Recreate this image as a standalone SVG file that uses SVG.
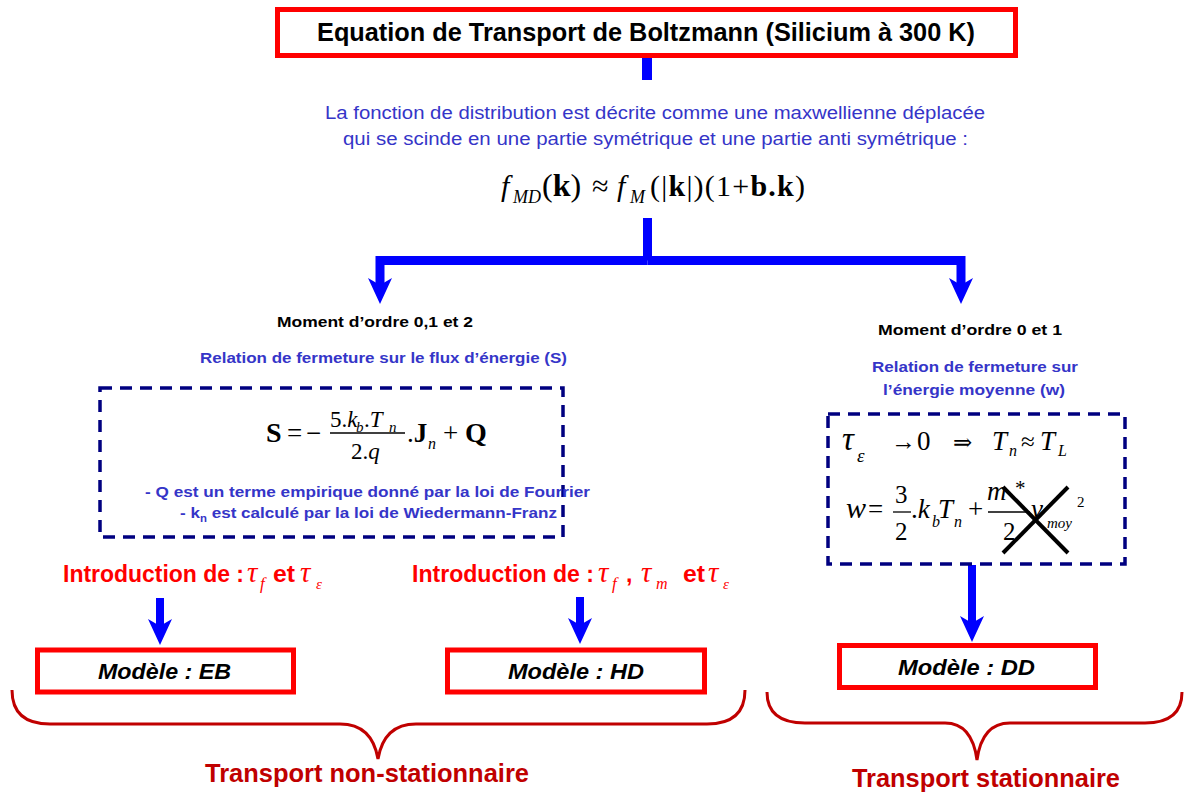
<svg xmlns="http://www.w3.org/2000/svg" width="1185" height="794" viewBox="0 0 1185 794">
<style>
.sans{font-family:"Liberation Sans",Arial,sans-serif;font-weight:bold}
.blue{fill:#3535C8}
.red{fill:#FF0000}
.dred{fill:#C00000}
.math{font-family:"Liberation Serif","DejaVu Serif",serif;fill:#000}
.it{font-style:italic}
.bd{font-weight:bold}
.rm{fill:#FF0000}
.rbox{fill:#fff;stroke:#FF0000;stroke-width:5}
.dbox{fill:none;stroke:#000080;stroke-width:3.5;stroke-dasharray:12 8}
.conn{fill:none;stroke:#0000FF;stroke-width:9;stroke-linejoin:miter}
.brace{fill:none;stroke:#C00000;stroke-width:3}
.frac{stroke:#000;stroke-width:1.3}
</style>
<defs>
<marker id="ah" markerUnits="userSpaceOnUse" markerWidth="26" markerHeight="24" refX="7" refY="12" orient="auto" overflow="visible">
<path d="M0,0 L26,12 L0,24 L7,12 Z" fill="#0000FF"/>
</marker>
</defs>

<g id="connectors">
<rect x="642" y="56" width="10" height="24" fill="#0000FF"/>
<path class="conn" d="M647.5,218 V260.5"/>
<path class="conn" d="M647.5,260.5 H380 V285" marker-end="url(#ah)"/>
<path class="conn" d="M647.5,260.5 H961 V285" marker-end="url(#ah)"/>
<path class="conn" style="stroke-width:8" d="M160,598 V626" marker-end="url(#ah)"/>
<path class="conn" style="stroke-width:8" d="M580,597 V625" marker-end="url(#ah)"/>
<path class="conn" style="stroke-width:8" d="M972,565 V623" marker-end="url(#ah)"/>
</g>

<g id="title">
<rect class="rbox" x="277.5" y="9.5" width="738" height="46"/>
<text class="sans" x="317" y="41" font-size="25" textLength="658" lengthAdjust="spacingAndGlyphs">Equation de Transport de Boltzmann (Silicium à 300 K)</text>
</g>

<g id="distribution">
<text class="sans blue" style="font-weight:normal" x="325" y="119" font-size="17.5" textLength="660" lengthAdjust="spacingAndGlyphs">La fonction de distribution est décrite comme une maxwellienne déplacée</text>
<text class="sans blue" style="font-weight:normal" x="343" y="145" font-size="17.5" textLength="625" lengthAdjust="spacingAndGlyphs">qui se scinde en une partie symétrique et une partie anti symétrique :</text>
<g class="math" font-size="30">
<text class="it" x="501" y="196">f</text>
<text class="it" x="513" y="203" font-size="18">MD</text>
<text x="542" y="196" font-size="32">(<tspan class="bd">k</tspan>)</text>
<text x="592" y="196">≈</text>
<text class="it" x="617" y="196">f</text>
<text class="it" x="630" y="203" font-size="18">M</text>
<text x="650" y="196" textLength="155" lengthAdjust="spacing">(|<tspan class="bd">k</tspan>|)(1+<tspan class="bd">b.k</tspan>)</text>
</g>
</g>

<g id="left-branch">
<text class="sans" x="277" y="327" font-size="14.5" textLength="196" lengthAdjust="spacingAndGlyphs">Moment d’ordre 0,1 et 2</text>
<text class="sans blue" x="200" y="363" font-size="15.5" textLength="367" lengthAdjust="spacingAndGlyphs">Relation de fermeture sur le flux d’énergie (S)</text>
</g>

<g id="flux-box">
<rect class="dbox" x="100" y="388" width="463" height="149"/>
<g class="math">
<text class="bd" x="266" y="442" font-size="28">S</text>
<text x="287" y="442" font-size="27">=</text>
<text x="306" y="442" font-size="27">−</text>
<text x="330" y="427" font-size="23">5.<tspan class="it">k</tspan></text>
<text class="it" x="356" y="432" font-size="15">b</text>
<text x="364" y="427" font-size="23">.<tspan class="it">T</tspan></text>
<text class="it" x="389" y="432" font-size="15">n</text>
<line class="frac" x1="330" y1="433" x2="405" y2="433"/>
<text x="351" y="459" font-size="23">2.<tspan class="it">q</tspan></text>
<text x="407" y="442" font-size="27">.<tspan class="bd">J</tspan></text>
<text class="it" x="428" y="449" font-size="16">n</text>
<text x="443" y="442" font-size="27">+</text>
<text class="bd" x="465" y="442" font-size="28">Q</text>
</g>
<text class="sans blue" x="145" y="497" font-size="15" textLength="445" lengthAdjust="spacingAndGlyphs">- Q est un terme empirique donné par la loi de Fourrier</text>
<text class="sans blue" x="180" y="518" font-size="15" textLength="377" lengthAdjust="spacingAndGlyphs">- k<tspan font-size="10" dy="4">n</tspan><tspan dy="-4"> est calculé par la loi de Wiedermann-Franz</tspan></text>
</g>

<g id="right-branch">
<text class="sans" x="878" y="335" font-size="14.5" textLength="184" lengthAdjust="spacingAndGlyphs">Moment d’ordre 0 et 1</text>
<text class="sans blue" x="872" y="372" font-size="15.5" textLength="206" lengthAdjust="spacingAndGlyphs">Relation de fermeture sur</text>
<text class="sans blue" x="883" y="395" font-size="15.5" textLength="182" lengthAdjust="spacingAndGlyphs">l’énergie moyenne (w)</text>
</g>

<g id="energy-box">
<rect class="dbox" x="828" y="414" width="297" height="150"/>
<g class="math">
<text class="it" x="842" y="450" font-size="33">τ</text>
<text class="it" x="857" y="462" font-size="19">ε</text>
<text x="891" y="450" font-size="25">→</text>
<text x="917" y="450" font-size="27">0</text>
<text x="953" y="450" font-size="23">⇒</text>
<text class="it" x="992" y="450" font-size="27">T</text>
<text class="it" x="1009" y="456" font-size="16">n</text>
<text x="1021" y="450" font-size="25">≈</text>
<text class="it" x="1040" y="450" font-size="27">T</text>
<text class="it" x="1058" y="456" font-size="16">L</text>
<text class="it" x="846" y="518" font-size="30">w</text>
<text x="868" y="518" font-size="27">=</text>
<text x="895" y="503" font-size="25">3</text>
<line class="frac" x1="893" y1="512" x2="911" y2="512"/>
<text x="895" y="540" font-size="25">2</text>
<text x="911" y="518" font-size="27">.<tspan class="it">k</tspan></text>
<text class="it" x="932" y="527" font-size="16">b</text>
<text class="it" x="938" y="518" font-size="27">T</text>
<text class="it" x="954" y="527" font-size="16">n</text>
<text x="968" y="518" font-size="27">+</text>
<text class="it" x="987" y="500" font-size="27">m</text>
<text x="1015" y="495" font-size="21">*</text>
<line class="frac" x1="988" y1="512" x2="1030" y2="512"/>
<text x="1003" y="540" font-size="25">2</text>
<text class="it" x="1031" y="518" font-size="27">v</text>
<text class="it" x="1047" y="528" font-size="15">moy</text>
<text x="1077" y="507" font-size="15">2</text>
</g>
<g stroke="#000" stroke-width="4">
<line x1="1003" y1="553" x2="1068" y2="487"/>
<line x1="1003" y1="487" x2="1068" y2="553"/>
</g>
</g>

<g id="intro-eb">
<text class="sans red" x="63" y="582" font-size="23" textLength="181" lengthAdjust="spacingAndGlyphs">Introduction de :</text>
<text class="math it rm" x="247" y="582" font-size="29">τ</text>
<text class="math it rm" x="260" y="589" font-size="17">f</text>
<text class="sans red" x="273" y="582" font-size="23" textLength="22" lengthAdjust="spacingAndGlyphs">et</text>
<text class="math it rm" x="300" y="582" font-size="29">τ</text>
<text class="math it rm" x="316" y="589" font-size="15">ε</text>
</g>

<g id="intro-hd">
<text class="sans red" x="412" y="582" font-size="23" textLength="182" lengthAdjust="spacingAndGlyphs">Introduction de :</text>
<text class="math it rm" x="598" y="582" font-size="29">τ</text>
<text class="math it rm" x="612" y="589" font-size="17">f</text>
<text class="sans red" x="626" y="582" font-size="23">,</text>
<text class="math it rm" x="641" y="582" font-size="29">τ</text>
<text class="math it rm" x="656" y="589" font-size="16">m</text>
<text class="sans red" x="683" y="582" font-size="23" textLength="22" lengthAdjust="spacingAndGlyphs">et</text>
<text class="math it rm" x="708" y="582" font-size="29">τ</text>
<text class="math it rm" x="723" y="589" font-size="15">ε</text>
</g>

<g id="model-eb">
<rect class="rbox" x="37.5" y="650" width="256" height="42"/>
<text class="sans" font-style="italic" x="98" y="679" font-size="22" textLength="133" lengthAdjust="spacingAndGlyphs">Modèle : EB</text>
</g>
<g id="model-hd">
<rect class="rbox" x="447.5" y="650" width="257" height="42"/>
<text class="sans" font-style="italic" x="508" y="679" font-size="22" textLength="136" lengthAdjust="spacingAndGlyphs">Modèle : HD</text>
</g>
<g id="model-dd">
<rect class="rbox" x="839.5" y="645.5" width="256" height="42"/>
<text class="sans" font-style="italic" x="898" y="675" font-size="22" textLength="137" lengthAdjust="spacingAndGlyphs">Modèle : DD</text>
</g>

<g id="non-stationnaire">
<path class="brace" d="M12,690 Q12,724 50,724 L340,724 Q372,724 378,759 Q384,724 416,724 L707,724 Q745,724 745,690"/>
<text class="sans dred" x="205" y="782" font-size="25" textLength="324" lengthAdjust="spacingAndGlyphs">Transport non-stationnaire</text>
</g>
<g id="stationnaire">
<path class="brace" d="M767,692 Q767,723 805,723 L945,723 Q972,723 977,760 Q982,723 1010,723 L1145,723 Q1182,723 1182,692"/>
<text class="sans dred" x="852" y="787" font-size="25" textLength="268" lengthAdjust="spacingAndGlyphs">Transport stationnaire</text>
</g>
</svg>
